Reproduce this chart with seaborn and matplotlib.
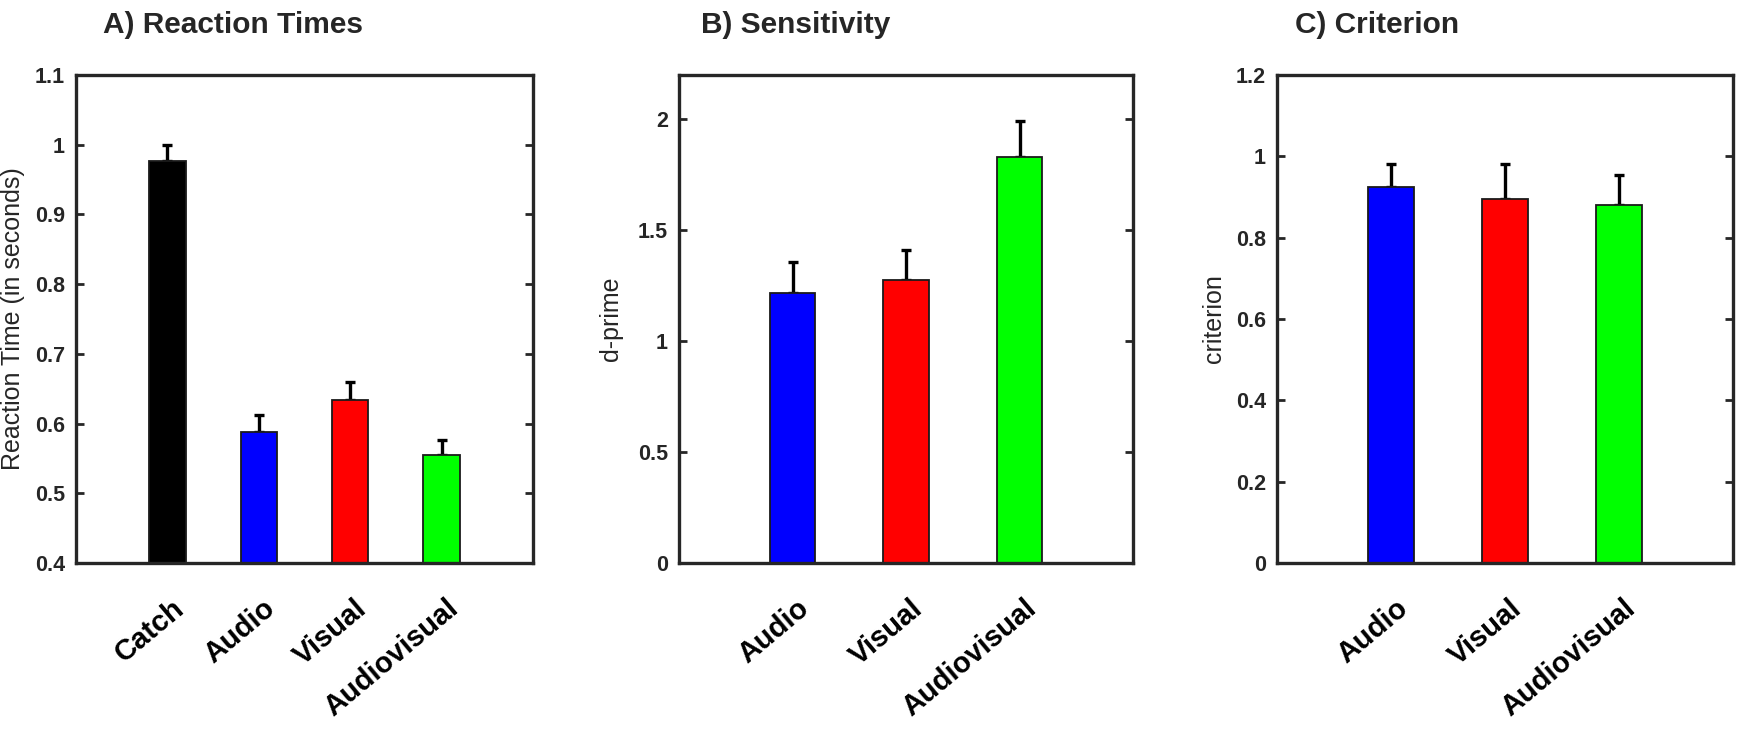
import numpy as np
import pandas as pd
import matplotlib
matplotlib.use("Agg")
import matplotlib.pyplot as plt
import matplotlib.transforms as mtransforms
import seaborn as sns

# Values
rt_conditions = ["Catch", "Audio", "Visual", "Audiovisual"]
rt_means = [0.976, 0.588, 0.634, 0.555]
rt_sem = [0.023, 0.024, 0.026, 0.022]
rt_colors = ["#000000", "#0000ff", "#ff0000", "#00ff00"]

sdt_conditions = ["Audio", "Visual", "Audiovisual"]
dprime_means = [1.217, 1.278, 1.830]
dprime_sem = [0.139, 0.132, 0.162]
criterion_means = [0.924, 0.895, 0.880]
criterion_sem = [0.058, 0.087, 0.074]
sdt_colors = ["#0000ff", "#ff0000", "#00ff00"]

sns.set_theme(style="white")
plt.rcParams["font.family"] = ["Liberation Sans", "DejaVu Sans"]

W, H = 1739, 731
fig = plt.figure(figsize=(W / 100, H / 100), dpi=100)
fig.patch.set_facecolor("white")

spine_col = "#262626"


def px_axes(left, right, top, bottom):
    return fig.add_axes([left / W, 1 - bottom / H, (right - left) / W, (bottom - top) / H])


def draw_panel(ax, cats, means, sem, colors, ylim, yticks, yticklabels, ylabel, ylabel_x,
               title, title_x):
    df = pd.DataFrame({"condition": cats, "value": means})
    sns.barplot(data=df, x="condition", y="value", hue="condition", palette=colors,
                order=cats, hue_order=cats, legend=False, width=0.4, saturation=1,
                edgecolor="#1a1a1a", linewidth=1.3, ax=ax, zorder=2)
    pos = np.arange(len(cats))
    ax.errorbar(pos, means, yerr=[np.zeros(len(cats)), sem], fmt="none", ecolor="black",
                elinewidth=2.4, capsize=3.5, capthick=2.4, zorder=1)
    ax.set_xlim(-1, len(cats))
    ax.set_ylim(*ylim)
    ax.set_yticks(yticks)
    ax.set_yticklabels(yticklabels, fontsize=15.5, fontweight="bold", color="#262626")

    # rotated category labels, shifted like the original (right end past the bar centre)
    ax.set_xticks(pos)
    ax.set_xticklabels([])
    shift = mtransforms.ScaledTranslation(22 / 100, -31 / 100, fig.dpi_scale_trans)
    trans = ax.get_xaxis_transform() + shift
    for p, c in zip(pos, cats):
        ax.text(p, 0, c, transform=trans, fontsize=21, fontweight="bold", rotation=40,
                ha="right", va="top", color="black")
    ax.tick_params(axis="x", length=0)
    ax.tick_params(axis="y", direction="in", length=6, width=2, color=spine_col,
                   left=True, right=True, pad=8)
    ax.set_xlabel("")
    ax.set_ylabel(ylabel, fontsize=18, color="#262626")
    ax.yaxis.set_label_coords(ylabel_x, 0.5)
    for s in ax.spines.values():
        s.set_visible(True)
        s.set_color(spine_col)
        s.set_linewidth(2.4)
    fig.text(title_x / W, 1 - 33 / H, title, fontsize=21.5, fontweight="bold",
             ha="left", va="baseline")


ax_a = px_axes(76, 533, 75, 563)
ax_b = px_axes(679, 1133, 75, 563)
ax_c = px_axes(1277, 1733, 75, 563)

draw_panel(ax_a, rt_conditions, rt_means, rt_sem, rt_colors, (0.4, 1.1),
           np.arange(0.4, 1.101, 0.1), ["0.4", "0.5", "0.6", "0.7", "0.8", "0.9", "1", "1.1"],
           "Reaction Time (in seconds)", -0.112, "A) Reaction Times", 103)
draw_panel(ax_b, sdt_conditions, dprime_means, dprime_sem, sdt_colors, (0, 2.2),
           [0, 0.5, 1, 1.5, 2], ["0", "0.5", "1", "1.5", "2"],
           "d-prime", -0.123, "B) Sensitivity", 701)
draw_panel(ax_c, sdt_conditions, criterion_means, criterion_sem, sdt_colors, (0, 1.2),
           [0, 0.2, 0.4, 0.6, 0.8, 1, 1.2], ["0", "0.2", "0.4", "0.6", "0.8", "1", "1.2"],
           "criterion", -0.112, "C) Criterion", 1295)

fig.savefig("out.png", dpi=100, facecolor="white")
